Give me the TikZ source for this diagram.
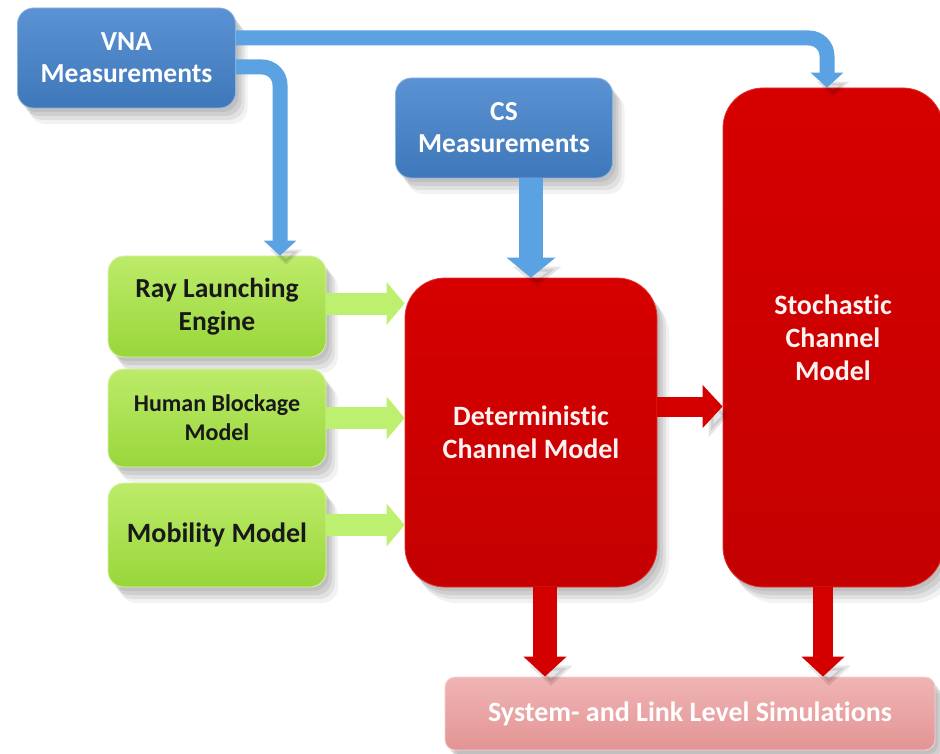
\documentclass[tikz,border=0pt]{standalone}
\usepackage{fontspec}
\setmainfont{Carlito}[Ligatures={NoCommon}]
\usetikzlibrary{arrows.meta,shadows,calc}
\definecolor{blueTop}{HTML}{5A92D3}
\definecolor{blueBot}{HTML}{3F78BA}
\definecolor{blueArr}{HTML}{5AA2E2}
\definecolor{greenTop}{HTML}{BDEB6A}
\definecolor{greenBot}{HTML}{98D63A}
\definecolor{greenArr}{HTML}{BDF06E}
\definecolor{redTop}{HTML}{D60000}
\definecolor{redBot}{HTML}{C40000}
\definecolor{redArr}{HTML}{D40000}
\definecolor{pinkTop}{HTML}{F0B4B4}
\definecolor{pinkBot}{HTML}{E39494}
\begin{document}
\begin{tikzpicture}[x=1pt,y=-1pt,
  softshadow/.style={
    drop shadow={shadow xshift=3pt,shadow yshift=-4pt,opacity=0.08,fill=black},
    drop shadow={shadow xshift=6pt,shadow yshift=-8pt,opacity=0.08,fill=black},
    drop shadow={shadow xshift=9pt,shadow yshift=-12pt,opacity=0.07,fill=black},
    drop shadow={shadow xshift=12pt,shadow yshift=-16pt,opacity=0.05,fill=black}},
  bluebox/.style={softshadow,rounded corners=16pt,top color=blueTop,bottom color=blueBot,
    draw=blueTop!70!white,line width=0.8pt,text=white,align=center,
    font=\bfseries\fontsize{27.5}{32}\selectfont,inner sep=0pt},
  greenbox/.style={softshadow,rounded corners=16pt,top color=greenTop,bottom color=greenBot,
    draw=greenTop!60!white,line width=0.8pt,text=black!90,align=center,inner sep=0pt,
    minimum width=218pt},
  redbox/.style={softshadow,rounded corners=40pt,top color=redTop,bottom color=redBot,
    draw=redTop!80!white,line width=0.8pt,text=white!95!red,align=center,
    font=\bfseries\fontsize{28}{33}\selectfont,inner sep=0pt},
  pinkbox/.style={softshadow,rounded corners=10pt,top color=pinkTop,bottom color=pinkBot,
    draw=pinkTop!60!white,line width=0.8pt,text=white,align=center,
    font=\bfseries\fontsize{28}{32}\selectfont,inner sep=0pt},
  arrshadow/.style={preaction={draw=black,opacity=0.10,transform canvas={shift={(6pt,-9pt)}}}},
  bluearrow/.style={arrshadow,draw=blueArr,line width=15pt,rounded corners=18pt,
    -{Triangle[width=32pt,length=15pt]}},
  greenarrow/.style={draw=greenArr,line width=22pt,-{Triangle[width=42pt,length=18pt]}},
  redarrow/.style={arrshadow,draw=redArr,line width=22pt,-{Triangle[width=42pt,length=20pt]}}
]
\useasboundingbox (0,0) rectangle (940,754);

% nodes
\node[bluebox,minimum width=218pt,minimum height=100pt] (vna) at (126.5,58) {VNA\\Measurements};
\node[bluebox,minimum width=217pt,minimum height=100pt] (cs) at (504,128) {CS\\Measurements};
\node[greenbox,minimum height=101pt,font=\bfseries\fontsize{27.5}{33}\selectfont] (ray) at (217,306.5) {Ray Launching\\Engine};
\node[greenbox,minimum height=98pt,font=\bfseries\fontsize{24}{29}\selectfont] (hum) at (217,418) {Human Blockage\\Model};
\node[greenbox,minimum height=104pt,font=\bfseries\fontsize{28}{33}\selectfont] (mob) at (217,535) {Mobility Model};
\node[redbox,minimum width=252pt,minimum height=309pt] (det) at (531,432.5) {Deterministic\\Channel Model};
\node[redbox,minimum width=220pt,minimum height=499pt] (sto) at (833,337.5) {Stochastic\\Channel\\Model};
\node[pinkbox,minimum width=490pt,minimum height=73pt] (sys) at (690,713.5) {System- and Link Level Simulations};

% connectors
\draw[bluearrow] ([yshift=20pt]vna.east) -| ([xshift=-6pt]sto.north);
\draw[bluearrow] ([yshift=-9pt]vna.east) -| ([xshift=63pt]ray.north);
\draw[bluearrow,line width=24pt,-{Triangle[width=48pt,length=20pt]}] (det.north |- cs.south) -- (det.north);
\draw[greenarrow] ([yshift=3pt]ray.east) -- ([yshift=3pt]ray.east -| det.west);
\draw[greenarrow] (hum.east) -- (hum.east -| det.west);
\draw[greenarrow] ([yshift=10pt]mob.east) -- ([yshift=10pt]mob.east -| det.west);
\draw[redarrow,line width=20pt] ([yshift=26pt]det.east) -- ([yshift=26pt]det.east -| sto.west);
\draw[redarrow,line width=24pt] ([xshift=14pt]det.south) -- ([xshift=14pt]det.south |- sys.north);
\draw[redarrow,line width=20pt] ([xshift=-10pt]sto.south) -- ([xshift=-10pt]sto.south |- sys.north);
\end{tikzpicture}
\end{document}
